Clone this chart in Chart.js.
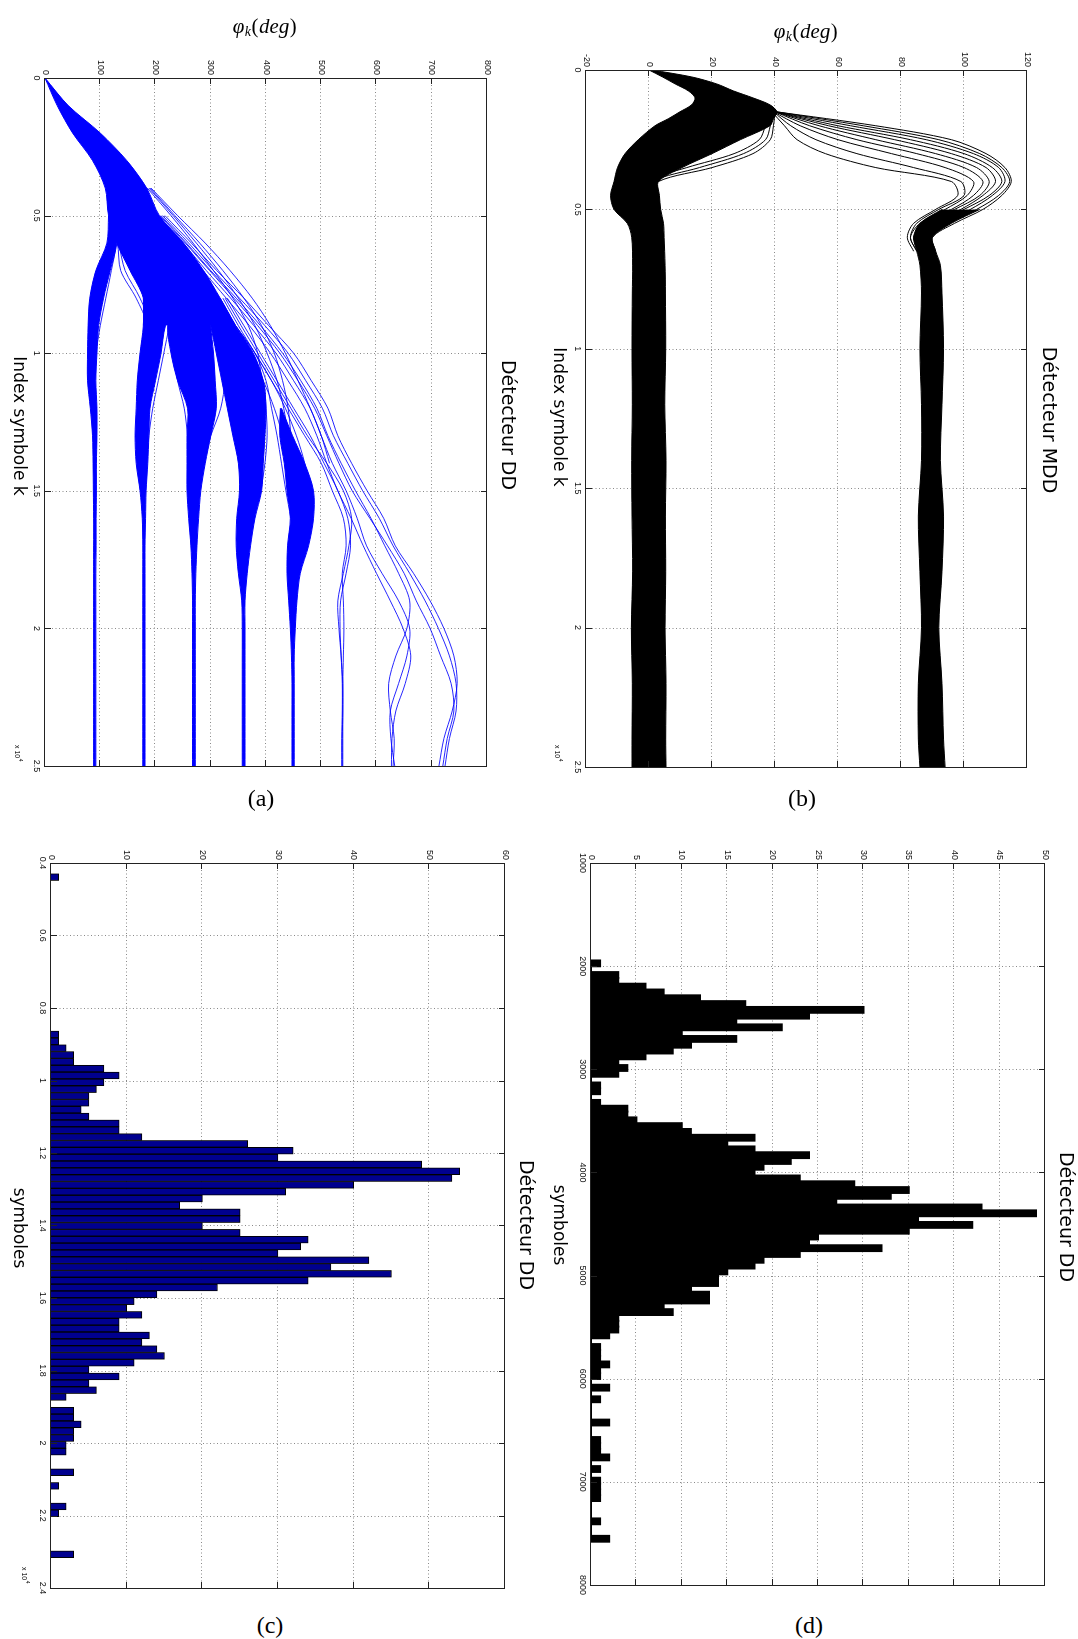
<!DOCTYPE html>
<html><head><meta charset="utf-8">
<script src="https://cdn.jsdelivr.net/npm/chart.js@4.4.0/dist/chart.umd.min.js"></script>
<style>
html,body{margin:0;padding:0;background:#fff;}
body{width:1078px;height:1639px;position:relative;overflow:hidden;}
.panel{position:absolute;transform-origin:0 0;}
.cap{position:absolute;font-family:'Liberation Serif','DejaVu Serif',serif;font-size:24px;transform:translate(-50%,-50%);color:#000;}
</style></head><body>
<div class="panel" id="pa"></div>
<div class="panel" id="pb"></div>
<div class="panel" id="pc"></div>
<div class="panel" id="pd"></div>
<div class="cap" style="left:261px;top:798px">(a)</div>
<div class="cap" style="left:802px;top:798px">(b)</div>
<div class="cap" style="left:270px;top:1625px">(c)</div>
<div class="cap" style="left:809px;top:1625px">(d)</div>
<script>
// ================= DATA =================
// shared tick definitions
const kTicks = [0, 5000, 10000, 15000, 20000, 25000];
const kTickLabels = ['0', '0.5', '1', '1.5', '2', '2.5'];
const phiTicksA = [0, 100, 200, 300, 400, 500, 600, 700, 800];
const phiLabelsA = ['0', '100', '200', '300', '400', '500', '600', '700', '800'];
const phiTicksB = [-20, 0, 20, 40, 60, 80, 100, 120];
const phiLabelsB = ['-20', '0', '20', '40', '60', '80', '100', '120'];
const symTicksC = [0.4, 0.6, 0.8, 1.0, 1.2, 1.4, 1.6, 1.8, 2.0, 2.2, 2.4];
const symLabelsC = ['0.4', '0.6', '0.8', '1', '1.2', '1.4', '1.6', '1.8', '2', '2.2', '2.4'];
const cntTicksC = [0, 10, 20, 30, 40, 50, 60];
const cntLabelsC = ['0', '10', '20', '30', '40', '50', '60'];
const symTicksD = [1000, 2000, 3000, 4000, 5000, 6000, 7000, 8000];
const symLabelsD = ['1000', '2000', '3000', '4000', '5000', '6000', '7000', '8000'];
const cntTicksD = [0, 5, 10, 15, 20, 25, 30, 35, 40, 45, 50];
const cntLabelsD = ['0', '5', '10', '15', '20', '25', '30', '35', '40', '45', '50'];

const titleA = 'Détecteur DD';
const titleB = 'Détecteur MDD';
const titleC = 'Détecteur DD';
const titleD = 'Détecteur DD';
const labelK = 'Index symbole k';
const labelSym = 'symboles';

// ---- Panel (a): DD detector phase trajectories (deg) ----
const kTrunk = [0, 1000, 2000, 3000, 4000, 5000, 6000, 7000, 8000, 9000];
const trunkLo = [0, 22, 50, 86, 109, 115, 130, 154, 178, 178];
const trunkHi = [0, 42, 100, 148, 184, 207, 251, 287, 317, 345];
const kB1 = [5000, 6000, 7000, 8000, 9000, 10000, 11000, 12000, 13000, 14000, 15000, 16000, 17000, 18000, 19000, 20000, 21000, 22000, 23000, 24000, 25000];
const b1Lo = [115, 112, 92, 81, 78, 77, 77, 82, 86, 87, 87.5, 88, 88, 88, 88, 88, 88, 88, 88, 88, 88];
const b1Hi = [130, 130, 118, 106, 97, 94, 92, 94, 94, 93, 93, 92.5, 92.5, 92, 92, 92, 92, 92, 92, 92, 92];
const kBr = [8000, 9000, 10000, 11000, 12000, 13000, 14000, 15000, 16000, 17000, 18000, 19000, 20000, 21000, 22000, 23000, 24000, 25000];
const b2Lo = [178, 178, 172, 167, 165, 163, 165, 172, 176, 177, 177, 177, 177, 177, 177, 177, 177, 177];
const b2Hi = [240, 218, 210, 200, 190, 188, 186, 183, 182, 181, 181, 181, 181, 181, 181, 181, 181, 181];
const b3Lo = [235, 222, 228, 240, 258, 257, 257, 257, 260, 264, 266, 267, 267, 267, 267, 267, 267, 267];
const b3Hi = [300, 300, 305, 308, 310, 300, 290, 282, 278, 275, 273, 272, 272, 272, 272, 272, 272, 272];
const b4Lo = [290, 300, 310, 320, 330, 340, 350, 352, 347, 346, 350, 356, 357, 357, 357, 357, 357, 357];
const b4Hi = [317, 345, 377, 395, 400, 398, 395, 392, 380, 372, 366, 362, 362, 362, 362, 362, 362, 362];
const kB5 = [12000, 13000, 14000, 15000, 16000, 17000, 18000, 19000, 20000, 21000, 22000, 23000, 24000, 25000];
const b5Lo = [426, 425, 433, 438, 444, 439, 438, 441, 444, 446, 447, 447, 447, 447];
const b5Hi = [428, 448, 470, 486, 486, 477, 462, 456, 453, 451, 451, 451, 451, 451];
const kW = [5000, 6000, 7000, 8000, 9000, 10000];
const w1 = [115, 131, 137, 165, 185, 180];
const w2 = [118, 133, 145, 172, 190, 182];
const w3 = [116, 128, 120, 110, 100, 92];
const kG = [9000, 10000, 11000, 12000, 13000, 14000, 15000, 16000];
const g1 = [225, 215, 205, 195, 188, 184, 181, 180];
const g2 = [230, 232, 240, 252, 258, 262, 265, 267];
const g3 = [310, 318, 325, 318, 300, 285, 275, 270];
const g4 = [305, 320, 335, 345, 352, 355, 356, 357];
const g5 = [345, 380, 400, 410, 420, 428, 436, 445];
const g6 = [340, 370, 395, 400, 402, 398, 390, 375];
const g7 = [340, 370, 395, 415, 430, 440, 445, 450];
const g8 = [345, 380, 410, 435, 455, 470, 478, 480];
const kF = [4000, 5000, 6000, 7000, 8000, 9000, 10000, 11000, 12000, 13000, 14000];
const f1 = [190, 235, 280, 322, 360, 392, 415, 430, 440, 445, 448];
const f2 = [185, 228, 268, 305, 340, 368, 385, 392, 395, 390, 378];
const f3 = [192, 240, 290, 335, 375, 408, 435, 458, 480, 500, 515];
const f4 = [188, 232, 274, 314, 350, 380, 402, 420, 432, 440, 444];
const s1 = [330, 360, 390, 420, 450, 480, 505, 530, 548, 553, 545, 535, 534, 536, 538, 538, 537, 537];
const s2 = [322, 350, 380, 410, 440, 470, 500, 520, 540, 545, 538, 540, 541, 540, 539, 539, 539, 539];
const s3 = [326, 355, 385, 415, 445, 475, 510, 540, 555, 550, 540, 530, 532, 536, 539, 539, 538, 538];
const kO = [5000, 6000, 7000, 8000, 9000, 10000, 11000, 12000, 13000, 14000, 15000, 16000, 17000, 18000, 19000, 20000, 21000, 22000, 23000, 24000, 25000];
const o1 = [217, 265, 311, 360, 405, 450, 482, 512, 530, 555, 583, 613, 634, 667, 697, 722, 740, 746, 737, 722, 713];
const o2 = [210, 256, 300, 346, 390, 430, 463, 492, 512, 536, 562, 590, 615, 640, 660, 655, 635, 622, 625, 632, 630];
const o3 = [208, 254, 298, 342, 385, 425, 458, 488, 510, 532, 556, 588, 620, 650, 672, 697, 716, 735, 740, 728, 720];
const o4 = [205, 250, 292, 336, 378, 418, 450, 480, 500, 520, 545, 565, 582, 610, 640, 660, 655, 640, 625, 626, 633];
const o5 = [202, 246, 286, 328, 370, 408, 440, 470, 492, 510, 530, 554, 576, 600, 625, 648, 662, 652, 635, 628, 627];
const o6 = [213, 260, 305, 352, 398, 440, 472, 502, 522, 548, 575, 605, 630, 660, 688, 712, 732, 744, 744, 732, 724];

// ---- Panel (b): MDD detector phase trajectories (deg) ----
const kMain = [0, 250, 500, 750, 1000, 1250, 1500, 1750, 2000, 2500, 3000, 3500, 4000, 4500, 5000, 5500, 6000, 7000, 8000, 10000, 12000, 14000, 16000, 18000, 20000, 22000, 24000, 25000];
const mainLo = [0, 4.3, 8.3, 12.5, 14.6, 13.5, 9.8, 6.1, 1.9, -3.4, -7.6, -10, -11.1, -12.2, -11.1, -6.9, -5.5, -5.2, -5.3, -5.4, -5.3, -5.5, -5.4, -5.2, -5.6, -5.3, -5.4, -5.4];
const mainHi = [1, 13.6, 21.5, 26.8, 33, 38.4, 40.6, 39.5, 38.4, 29, 20, 10.5, 3, 3.3, 3.7, 4.6, 4.8, 5.1, 5.2, 5.3, 5.0, 5.4, 5.2, 5.3, 5.1, 5.4, 5.3, 5.4];
const kUp = [5000, 5500, 6000, 6500, 7000, 8000, 10000, 12000, 14000, 16000, 18000, 20000, 22000, 24000, 25000];
const upLo = [93, 86, 84, 85, 86, 86.5, 86, 86.5, 86.5, 85.5, 86, 86.5, 85.5, 85.5, 86];
const upHi = [105, 96, 90, 91, 92.5, 93, 93.5, 93, 92.5, 93.5, 93, 92, 93, 93.5, 94];
const kSlip = [1500, 2000, 2500, 3000, 3500, 4000, 4500, 5000, 5500, 6000, 6500];
const slip1 = [40.5, 72, 96, 107, 113, 115, 112, 106, 97, 90, 91];
const slip2 = [40.5, 68, 92, 105, 112, 114.5, 111, 104, 95, 89, 90];
const slip3 = [40, 64, 88, 103, 111, 113, 109, 102, 93, 88, 89];
const slip4 = [40, 60, 83, 100, 109, 112, 108, 100, 91, 87, 88];
const slip5 = [40, 57, 78, 96, 107, 110, 106, 99, 90, 86, 87];
const slip6 = [40, 54, 72, 91, 104, 108, 105, 97, 88, 85, 87];
const slip7 = [40, 51, 66, 85, 100, 106, 103, 96, 87, 84, 86];
const slip8 = [39.5, 48, 60, 77, 94, 103, 101, 94, 86, 83, 85];
const slip9 = [39.5, 45, 53, 66, 84, 99, 100, 92, 85, 83, 85];
const slip10 = [39, 43, 47, 56, 72, 96, 98, 91, 84, 82, 84];
const kBack = [1500, 2000, 2500, 3000, 3500, 4000, 4500];
const back1 = [40, 39.5, 38.5, 33, 20, 3, 2];
const back2 = [39.5, 38.5, 37, 30, 16, 1, 0];
const back3 = [39, 37, 35, 27, 12, -1, -2];

// ---- Panel (c): histogram, DD detector (symbols x 1e4) ----
const binStartC = 0.4295, binWidthC = 0.01887;
const countsC = [1,0,0,0,0,0,0,0,0,0, 0,0,0,0,0,0,0,0,0,0, 0,0,0,1,1,2,3,3,7,9,
  7,6,5,5,4,5,9,9,12,26, 32,30,49,54,53,40,31,20,17,25, 25,20,25,34,33,30,42,37,45,34,
  22,14,11,10,12,9,9,13,12,14, 15,11,5,9,5,6,2,0,3,3, 4,3,3,2,2,0,0,3,0,1, 0,0,2,1,0,0,0,0,0,3];

// ---- Panel (d): histogram, DD detector (symbols) ----
const binStartD = 1945, binWidthD = 56.35;
const countsD = [1,0,3,3,6,8,12,17,30,24, 16,21,10,16,11,9,6,3,4,3, 0,1,1,0,1,4,4,5,10,11,
  18,15,18,24,22,19,18,23,29,35, 33,27,43,49,36,42,35,25,24,32, 23,19,18,15,14,14,11,13,13,8,
  9,3,3,3,2,0,1,1,1,2, 1,1,0,2,0,1,0,0,0,2, 0,0,1,1,1,2,0,1,0,1, 1,1,1,0,0,0,1,0,0,2];

// ================= RENDERING =================
const TITLE_FONT = "19px 'DejaVu Sans'";
const AXIS_FONT = "17px 'DejaVu Sans'";
const TICK_FONT = {family: 'Liberation Sans', size: 9};

function pts(K, V) { return K.map((k, i) => ({x: k, y: V[i]})); }
function hp(v) { return Math.round(v) + 0.5; }

function drawText(ctx, t) {
  ctx.save();
  ctx.translate(t.u, t.v);
  if (t.rot) ctx.rotate(t.rot * Math.PI / 180);
  ctx.fillStyle = '#000';
  ctx.textBaseline = 'middle';
  if (t.kind === 'phi') {
    const parts = [
      ['φ', "italic 21px 'Liberation Serif'", 0],
      ['k', "italic 14px 'Liberation Serif'", 5],
      ['(', "21px 'Liberation Serif'", 0],
      ['deg', "italic 21px 'Liberation Serif'", 0],
      [')', "21px 'Liberation Serif'", 0]
    ];
    let w = 0;
    parts.forEach(p => { ctx.font = p[1]; w += ctx.measureText(p[0]).width + 0.5; });
    let x = -w / 2;
    ctx.textAlign = 'left';
    parts.forEach(p => { ctx.font = p[1]; ctx.fillText(p[0], x, p[2]); x += ctx.measureText(p[0]).width + 0.5; });
  } else if (t.kind === 'exp') {
    ctx.textAlign = 'left';
    ctx.font = "7px 'Liberation Sans'";
    ctx.fillText('x 10', 0, 0);
    const w = ctx.measureText('x 10').width;
    ctx.font = "5px 'Liberation Sans'";
    ctx.fillText('4', w + 0.5, -3);
  } else {
    ctx.textAlign = 'center';
    ctx.font = t.font;
    ctx.fillText(t.text, 0, 0);
  }
  ctx.restore();
}

const framePlugin = {
  id: 'frame',
  beforeDatasetsDraw(chart) {
    const {ctx, chartArea: a} = chart;
    const xs = chart.scales.x, ys = chart.scales.y;
    ctx.save();
    ctx.strokeStyle = '#8a8a8a'; ctx.lineWidth = 1; ctx.setLineDash([1, 2.5]);
    ctx.beginPath();
    xs.ticks.forEach(t => { const p = xs.getPixelForValue(t.value); if (p > a.left + 2 && p < a.right - 2) { ctx.moveTo(hp(p), a.top); ctx.lineTo(hp(p), a.bottom); } });
    ys.ticks.forEach(t => { const p = ys.getPixelForValue(t.value); if (p > a.top + 2 && p < a.bottom - 2) { ctx.moveTo(a.left, hp(p)); ctx.lineTo(a.right, hp(p)); } });
    ctx.stroke();
    ctx.restore();
  },
  afterDatasetsDraw(chart, args, opts) {
    const {ctx, chartArea: a} = chart;
    const xs = chart.scales.x, ys = chart.scales.y;
    ctx.save();
    ctx.setLineDash([]); ctx.strokeStyle = '#222'; ctx.lineWidth = 1;
    const L = Math.round(a.left), R = Math.round(a.right), T = Math.round(a.top), B = Math.round(a.bottom);
    ctx.strokeRect(L + 0.5, T + 0.5, R - L, B - T);
    const TL = 6;
    ctx.beginPath();
    xs.ticks.forEach(t => { const p = hp(xs.getPixelForValue(t.value)); ctx.moveTo(p, B); ctx.lineTo(p, B - TL); ctx.moveTo(p, T); ctx.lineTo(p, T + TL); });
    ys.ticks.forEach(t => { const p = hp(ys.getPixelForValue(t.value)); ctx.moveTo(L, p); ctx.lineTo(L + TL, p); ctx.moveTo(R, p); ctx.lineTo(R - TL, p); });
    ctx.stroke();
    ctx.restore();
    (opts.texts || []).forEach(t => drawText(ctx, t));
  }
};

function panel(cfg) {
  const div = document.getElementById(cfg.div);
  Object.assign(div.style, {left: cfg.L + 'px', top: cfg.T + 'px', width: cfg.W + 'px', height: cfg.H + 'px',
    transform: 'translate(' + cfg.H + 'px,0px) rotate(90deg)'});
  const cv = document.createElement('canvas');
  cv.width = cfg.W; cv.height = cfg.H;
  cv.style.width = cfg.W + 'px'; cv.style.height = cfg.H + 'px'; cv.style.display = 'block';
  div.appendChild(cv);
  const YW = 40, XH = 30, a = cfg.area;
  new Chart(cv, {
    type: cfg.type,
    data: {datasets: cfg.datasets},
    options: {
      responsive: false, animation: false, devicePixelRatio: 1, events: [],
      layout: {padding: {left: a.l - YW, top: a.t, right: cfg.W - a.r, bottom: cfg.H - a.b - XH}},
      plugins: {legend: {display: false}, title: {display: false}, tooltip: {enabled: false}, frame: {texts: cfg.texts}},
      scales: {
        x: {type: 'linear', min: cfg.xMin, max: cfg.xMax, offset: false,
          grid: {display: false, offset: false, drawTicks: false, tickLength: 0}, border: {display: false},
          afterBuildTicks: s => { s.ticks = cfg.xTicks.map(v => ({value: v})); },
          afterFit: s => { s.height = XH; },
          ticks: {autoSkip: false, maxRotation: 0, minRotation: 0, padding: 3, font: TICK_FONT, color: '#111',
            callback: (v, i) => cfg.xLabels[i]}},
        y: {type: 'linear', min: cfg.yMin, max: cfg.yMax,
          grid: {display: false, drawTicks: false, tickLength: 0}, border: {display: false},
          afterBuildTicks: s => { s.ticks = cfg.yTicks.map(v => ({value: v})); },
          afterFit: s => { s.width = YW; },
          ticks: {autoSkip: false, padding: 3, font: TICK_FONT, color: '#111',
            callback: (v, i) => cfg.yLabels[i]}}
      }
    },
    plugins: [framePlugin]
  });
}

function lineDS(K, V, color, width) {
  return {type: 'line', data: pts(K, V), borderColor: color, borderWidth: width, pointRadius: 0, fill: false, tension: 0.3};
}
function bandDS(list, K, lo, hi, color) {
  list.push({type: 'line', data: pts(K, lo), borderColor: color, borderWidth: 1, pointRadius: 0, fill: false, tension: 0.3});
  list.push({type: 'line', data: pts(K, hi), borderColor: color, borderWidth: 1, pointRadius: 0, fill: '-1', backgroundColor: color, tension: 0.3});
}

// ---- panel (a)
const BLUE = '#0000ff', BLUE_L = 'rgba(0,0,255,0.85)';
const dsA = [];
bandDS(dsA, kTrunk, trunkLo, trunkHi, BLUE);
bandDS(dsA, kB1, b1Lo, b1Hi, BLUE);
bandDS(dsA, kBr, b2Lo, b2Hi, BLUE);
bandDS(dsA, kBr, b3Lo, b3Hi, BLUE);
bandDS(dsA, kBr, b4Lo, b4Hi, BLUE);
bandDS(dsA, kB5, b5Lo, b5Hi, BLUE);
[w1, w2, w3].forEach(v => dsA.push(lineDS(kW, v, BLUE_L, 1)));
[g1, g2, g3, g4, g5, g6, g7, g8].forEach(v => dsA.push(lineDS(kG, v, BLUE_L, 1)));
[f1, f2, f3, f4].forEach(v => dsA.push(lineDS(kF, v, BLUE_L, 1)));
[s1, s2, s3].forEach(v => dsA.push(lineDS(kBr, v, BLUE_L, 1)));
[o1, o2, o3, o4, o5, o6].forEach(v => dsA.push(lineDS(kO, v, BLUE_L, 1)));
panel({div: 'pa', type: 'line', L: 0, T: 0, W: 790, H: 535, area: {l: 78, r: 766, t: 48, b: 490},
  xMin: 0, xMax: 25000, xTicks: kTicks, xLabels: kTickLabels,
  yMin: 0, yMax: 800, yTicks: phiTicksA, yLabels: phiLabelsA, datasets: dsA,
  texts: [{text: titleA, u: 425, v: 28, font: TITLE_FONT}, {text: labelK, u: 426, v: 517, font: AXIS_FONT},
    {kind: 'phi', u: 27, v: 270, rot: -90}, {kind: 'exp', u: 745, v: 518}]});

// ---- panel (b)
const BLACK = '#000000';
const dsB = [];
bandDS(dsB, kMain, mainLo, mainHi, BLACK);
bandDS(dsB, kUp, upLo, upHi, BLACK);
[slip1, slip2, slip3, slip4, slip5, slip6, slip7, slip8, slip9, slip10].forEach(v => dsB.push(lineDS(kSlip, v, BLACK, 1)));
[back1, back2, back3].forEach(v => dsB.push(lineDS(kBack, v, BLACK, 1)));
panel({div: 'pb', type: 'line', L: 540, T: 0, W: 790, H: 538, area: {l: 70, r: 767, t: 51, b: 492},
  xMin: 0, xMax: 25000, xTicks: kTicks, xLabels: kTickLabels,
  yMin: -20, yMax: 120, yTicks: phiTicksB, yLabels: phiLabelsB, datasets: dsB,
  texts: [{text: titleB, u: 420, v: 30, font: TITLE_FONT}, {text: labelK, u: 417, v: 520, font: AXIS_FONT},
    {kind: 'phi', u: 32, v: 272, rot: -90}, {kind: 'exp', u: 745, v: 521}]});

// ---- panel (c)
const dsC = [{type: 'bar', data: countsC.map((c, i) => ({x: binStartC + (i + 0.5) * binWidthC, y: c})),
  backgroundColor: '#00008f', borderColor: '#000', borderWidth: 1, barPercentage: 1, categoryPercentage: 1}];
panel({div: 'pc', type: 'bar', L: 0, T: 820, W: 790, H: 540, area: {l: 43, r: 768, t: 35, b: 489},
  xMin: 0.4, xMax: 2.4, xTicks: symTicksC, xLabels: symLabelsC,
  yMin: 0, yMax: 60, yTicks: cntTicksC, yLabels: cntLabelsC, datasets: dsC,
  texts: [{text: titleC, u: 405, v: 15, font: TITLE_FONT}, {text: labelSym, u: 408, v: 522, font: AXIS_FONT},
    {kind: 'exp', u: 747, v: 516}]});

// ---- panel (d)
const dsD = [{type: 'bar', data: countsD.map((c, i) => ({x: binStartD + (i + 0.5) * binWidthD, y: c})),
  backgroundColor: '#000', borderColor: '#000', borderWidth: 0, inflateAmount: 1, barPercentage: 1, categoryPercentage: 1}];
panel({div: 'pd', type: 'bar', L: 540, T: 820, W: 790, H: 538, area: {l: 43, r: 765, t: 33, b: 487},
  xMin: 1000, xMax: 8000, xTicks: symTicksD, xLabels: symLabelsD,
  yMin: 0, yMax: 50, yTicks: cntTicksD, yLabels: cntLabelsD, datasets: dsD,
  texts: [{text: titleD, u: 397, v: 13, font: TITLE_FONT}, {text: labelSym, u: 405, v: 520, font: AXIS_FONT}]});
</script>
</body></html>
